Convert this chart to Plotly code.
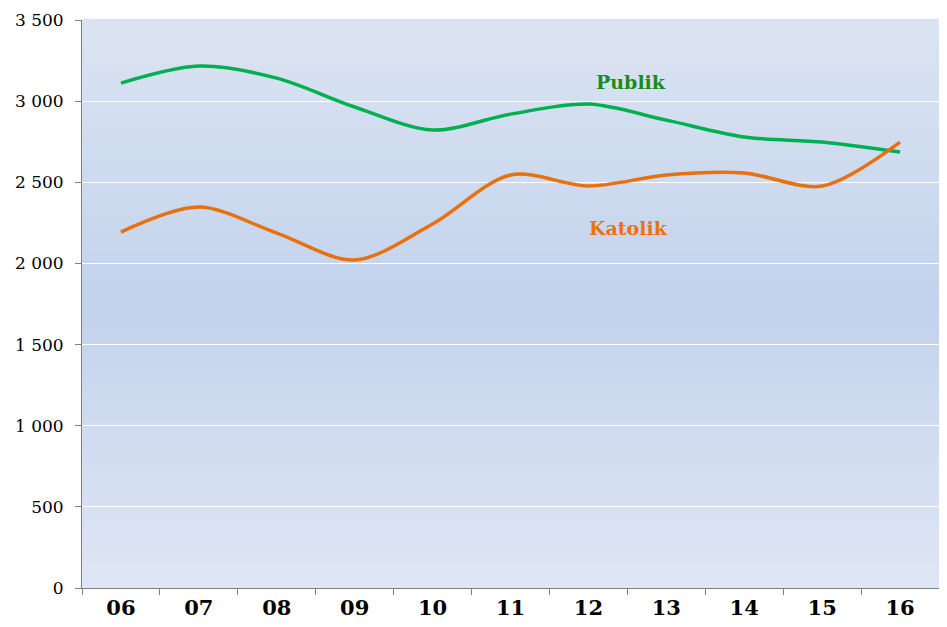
import plotly.graph_objects as go

years = ["06", "07", "08", "09", "10", "11", "12", "13", "14", "15", "16"]
publik = [3111, 3216, 3142, 2964, 2822, 2920, 2982, 2883, 2779, 2748, 2686]
katolik = [2193, 2347, 2187, 2021, 2243, 2545, 2477, 2545, 2557, 2477, 2748]
y_ticks = [0, 500, 1000, 1500, 2000, 2500, 3000, 3500]

fig = go.Figure()
fig.add_trace(go.Scatter(x=years, y=publik, mode="lines", name="Publik",
                         line=dict(color="#00b050", width=3.5, shape="spline", smoothing=0.9)))
fig.add_trace(go.Scatter(x=years, y=katolik, mode="lines", name="Katolik",
                         line=dict(color="#e8700d", width=3.5, shape="spline", smoothing=0.9)))

# vertical gradient background (light top, darker middle, light bottom)
def lerp(c1, c2, t):
    return tuple(round(a + (b - a) * t) for a, b in zip(c1, c2))

top = (219, 228, 241)
mid = (195, 211, 237)
bot = (223, 230, 244)
n = 90
shapes = []
for i in range(n):
    f0 = i / n
    f1 = (i + 1) / n
    fc = (f0 + f1) / 2
    if fc < 0.5:
        c = lerp(bot, mid, fc / 0.5)
    else:
        c = lerp(mid, top, (fc - 0.5) / 0.5)
    shapes.append(dict(type="rect", xref="x domain", yref="y domain",
                       x0=0, x1=1, y0=f0, y1=f1 + 0.002, layer="below",
                       line=dict(width=0), fillcolor="rgb(%d,%d,%d)" % c))

fig.update_layout(
    width=931, height=611,
    margin=dict(l=74, r=0, t=12, b=31),
    paper_bgcolor="white",
    plot_bgcolor="#d0dcef",
    showlegend=False,
    separators=". ",
    shapes=shapes,
    annotations=[
        dict(x=6.55, y=3118, xref="x", yref="y", text="<b>Publik</b>", showarrow=False,
             font=dict(family="DejaVu Serif", size=19, color="#1a8c1a")),
        dict(x=6.52, y=2218, xref="x", yref="y", text="<b>Katolik</b>", showarrow=False,
             font=dict(family="DejaVu Serif", size=19, color="#f07010")),
    ],
)
fig.update_xaxes(
    type="category", range=[-0.5, 10.5], automargin=False,
    showgrid=False, showline=True, linecolor="#808080", linewidth=1,
    ticks="outside", tickson="boundaries", ticklen=6, tickcolor="#808080",
    ticklabelstandoff=1,
    tickfont=dict(family="DejaVu Serif", size=21, color="black", weight="bold"),
)
fig.update_yaxes(
    range=[0, 3500], tickvals=y_ticks, tickformat=",d", automargin=False,
    showgrid=True, gridcolor="white", gridwidth=1,
    showline=True, linecolor="#808080", linewidth=1,
    ticks="outside", ticklen=6, tickcolor="#808080",
    ticklabelstandoff=8,
    tickfont=dict(family="DejaVu Serif", size=17, color="black"),
    zeroline=False,
)
fig.write_html("out.html")
